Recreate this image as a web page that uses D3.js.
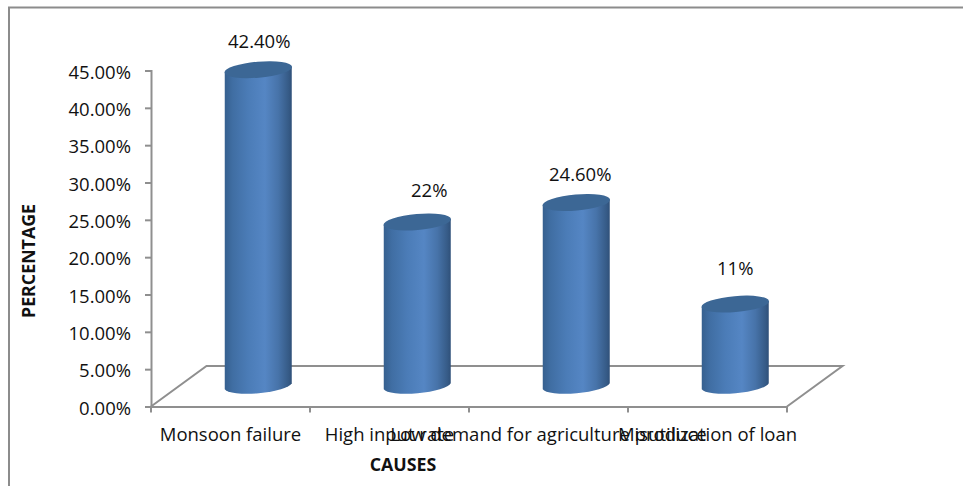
<!DOCTYPE html>
<html>
<head>
<meta charset="utf-8">
<script src="https://cdn.jsdelivr.net/npm/d3@7/dist/d3.min.js"></script>
<style>
  html, body { margin: 0; padding: 0; background: #fff; overflow: hidden; }
  svg { display: block; }
  text { font-family: "Open Sans", sans-serif; fill: #111; }
</style>
</head>
<body>
<svg id="chart" width="963" height="486"></svg>
<script>
const categories = ["Monsoon failure", "High input rate", "Low demand for agriculture produce", "Misutilization of loan"];
const values = [42.4, 22, 24.6, 11];
const valueLabels = ["42.40%", "22%", "24.60%", "11%"];
const yTicks = [0, 5, 10, 15, 20, 25, 30, 35, 40, 45];

const svg = d3.select("#chart");
const axisColor = "#8f8f8f";
const labelSize = 18.5;
const titleSize = 17.8;

// Plot frame and the oblique offset of the 3D floor
const plotLeft = 151, plotRight = 787, plotBottom = 406.5, plotTop = 70.5;
const depthX = 55.5, depthY = -40.5;
const barWidth = 67, capRx = 33.9, capRy = 8, capTilt = -5, tiltDrop = 2.9;

// Data labels were placed by hand, so each keeps its own shift from its cylinder
const labelShiftX = [1, 12, 4, 0];
const labelShiftY = [-22, -25, -22, -29];

const y = d3.scaleLinear().domain([0, 45]).range([plotBottom, plotTop]);
const x = d3.scaleBand().domain(categories).range([plotLeft, plotRight]);

// Outer border: top and left edges only
svg.append("path")
  .attr("d", "M9,486V7.5H963")
  .attr("fill", "none").attr("stroke", "#8c8c8c").attr("stroke-width", 2);

// Cylinder shading
const defs = svg.append("defs");
const grad = defs.append("linearGradient").attr("id", "cyl");
[[0, "#36608f"], [0.12, "#406ea3"], [0.35, "#4b7cb7"], [0.6, "#5586c4"], [0.8, "#4773a9"], [0.95, "#365b87"], [1, "#2f5079"]]
  .forEach(([o, c]) => grad.append("stop").attr("offset", o).attr("stop-color", c));

// Floor of the 3D plot
svg.append("path")
  .attr("d", `M${plotLeft},${plotBottom}L${plotLeft + depthX},${plotBottom + depthY}H${plotRight + depthX}L${plotRight},${plotBottom}`)
  .attr("fill", "none").attr("stroke", axisColor).attr("stroke-width", 2);

// Axes
const yAxis = svg.append("g")
  .attr("transform", `translate(${plotLeft},0)`)
  .call(d3.axisLeft(y).tickValues(yTicks).tickSize(6).tickPadding(14)
    .tickFormat(d => d3.format(".2f")(d) + "%"));
const xAxis = svg.append("g")
  .attr("transform", `translate(0,${plotBottom})`)
  .call(d3.axisBottom(x).tickValues([]).tickSize(0));
const xTicks = d3.range(categories.length + 1).map(i => plotLeft + i * x.bandwidth());
xAxis.selectAll("line.edge").data(xTicks).join("line").attr("class", "edge")
  .attr("x1", d => d).attr("x2", d => d).attr("y1", 0).attr("y2", 6)
  .attr("stroke", axisColor).attr("stroke-width", 2);
svg.selectAll(".domain, .tick line").attr("stroke", axisColor).attr("stroke-width", 2);
yAxis.selectAll("text").attr("font-size", labelSize).attr("dy", "0.42em");
xAxis.selectAll("text.cat").data(categories).join("text").attr("class", "cat")
  .attr("x", d => x(d) + x.bandwidth() / 2)
  .attr("y", 34)
  .attr("text-anchor", "middle")
  .attr("font-size", labelSize)
  .text(d => d);
svg.selectAll("g").attr("font-family", null);

// Cylinders stand halfway back on the floor
const cx = d => x(d) + x.bandwidth() / 2 + depthX / 2;
const topY = v => y(v) + depthY / 2;
const baseY = topY(0);
const arc = (sweep, xe, ye) => `A${capRx},${capRy} ${capTilt} 0 ${sweep} ${xe},${ye}`;

const bars = svg.append("g").selectAll("g").data(categories).join("g");
bars.append("path")
  .attr("fill", "url(#cyl)")
  .attr("d", (c, i) => {
    const xl = cx(c) - barWidth / 2, xr = cx(c) + barWidth / 2, t = topY(values[i]);
    return `M${xl},${t + tiltDrop}L${xr},${t - tiltDrop}L${xr},${baseY - tiltDrop}` +
      arc(1, xl, baseY + tiltDrop) + "Z";
  });
bars.append("ellipse")
  .attr("cx", c => cx(c))
  .attr("cy", (c, i) => topY(values[i]))
  .attr("rx", capRx).attr("ry", capRy)
  .attr("transform", (c, i) => `rotate(${capTilt} ${cx(c)} ${topY(values[i])})`)
  .attr("fill", "#3c6795");

// Value labels above each cylinder
svg.append("g").selectAll("text").data(categories).join("text")
  .attr("x", (c, i) => cx(c) + labelShiftX[i])
  .attr("y", (c, i) => topY(values[i]) + labelShiftY[i])
  .attr("text-anchor", "middle")
  .attr("font-size", labelSize)
  .text((c, i) => valueLabels[i]);

// Axis titles
svg.append("text").attr("x", 403).attr("y", 470.5).attr("text-anchor", "middle")
  .attr("font-size", titleSize).attr("font-weight", 700).text("CAUSES");
svg.append("text").attr("transform", "translate(35,261) rotate(-90)").attr("text-anchor", "middle")
  .attr("font-size", titleSize).attr("font-weight", 700).text("PERCENTAGE");
</script>
</body>
</html>
